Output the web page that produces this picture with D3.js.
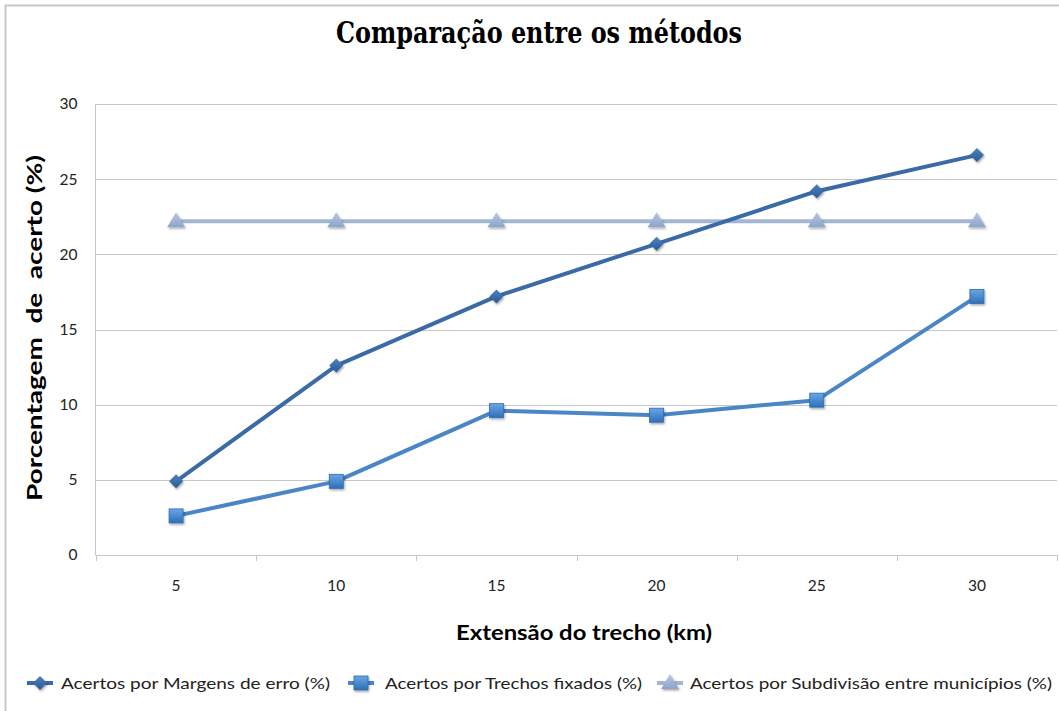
<!DOCTYPE html>
<html>
<head>
<meta charset="utf-8">
<script src="https://cdn.jsdelivr.net/npm/d3@7"></script>
<style>
  html, body { margin: 0; padding: 0; background: #fff; }
  svg { display: block; }
</style>
</head>
<body>
<svg id="chart" width="1059" height="711"></svg>
<script>
// Chart data
const categories = ["5", "10", "15", "20", "25", "30"];
const margensErro = [4.9, 12.6, 17.2, 20.7, 24.2, 26.6];
const trechosFixados = [2.6, 4.9, 9.6, 9.3, 10.3, 17.2];
const subdivisaoMunicipios = [22.2, 22.2, 22.2, 22.2, 22.2, 22.2];
const yTicks = [0, 5, 10, 15, 20, 25, 30];
const seriesNames = [
  "Acertos por Margens de erro (%)",
  "Acertos por Trechos fixados (%)",
  "Acertos por Subdivisão entre municípios (%)"
];

const svg = d3.select("#chart");
const W = 1059, H = 711;
const plot = { left: 96, right: 1057, top: 104, bottom: 555 };
const font = "Lato, 'Open Sans', 'Liberation Sans', sans-serif";

// Outer frame
svg.append("rect").attr("x", 5.5).attr("y", 5.5).attr("width", W).attr("height", H)
  .attr("fill", "#fff").attr("stroke", "#c8c8c8").attr("stroke-width", 2);

// Gradients for markers
const defs = svg.append("defs");
function grad(id, c1, c2) {
  const g = defs.append("linearGradient").attr("id", id)
    .attr("x1", "0").attr("y1", "0").attr("x2", "0").attr("y2", "1");
  g.append("stop").attr("offset", "0%").attr("stop-color", c1);
  g.append("stop").attr("offset", "100%").attr("stop-color", c2);
}
grad("gDiamond", "#4f82c0", "#2a5a94");
grad("gSquare", "#6aa6e6", "#2f6fb8");
grad("gTri", "#b8c8e2", "#8ea3c8");
const shadow = defs.append("filter").attr("id", "shadow").attr("x", "-50%").attr("y", "-50%").attr("width", "200%").attr("height", "200%");
shadow.append("feDropShadow").attr("dx", 1).attr("dy", 1.5).attr("stdDeviation", 1).attr("flood-color", "#000").attr("flood-opacity", 0.35);

// Scales
const x = d3.scaleBand().domain(categories).range([plot.left, plot.right]);
const y = d3.scaleLinear().domain([0, 30]).range([plot.bottom, plot.top]);

// Horizontal gridlines
svg.append("g").selectAll("line").data(yTicks.filter(t => t > 0)).join("line")
  .attr("x1", plot.left).attr("x2", plot.right)
  .attr("y1", d => Math.round(y(d)) + 0.5).attr("y2", d => Math.round(y(d)) + 0.5)
  .attr("stroke", "#c6c6c6").attr("stroke-width", 1);

// Y axis
const yAxis = svg.append("g").attr("transform", `translate(${plot.left - 0.5},0)`)
  .call(d3.axisLeft(y).tickValues(yTicks).tickSize(0).tickPadding(18));
yAxis.select(".domain").attr("stroke", "#c6c6c6").attr("d", `M0,${plot.top}V${plot.bottom}`);
yAxis.selectAll("text").attr("font-family", font).attr("font-size", 15.5).attr("fill", "#222");

// X axis
const boundaries = categories.map(c => x(c)).concat([plot.right]);
const xg = svg.append("g");
xg.append("line").attr("x1", plot.left - 0.5).attr("x2", plot.right)
  .attr("y1", plot.bottom + 0.5).attr("y2", plot.bottom + 0.5).attr("stroke", "#c6c6c6");
xg.selectAll("line.tick").data(boundaries).join("line").attr("class", "tick")
  .attr("x1", d => Math.round(d) + 0.5).attr("x2", d => Math.round(d) + 0.5)
  .attr("y1", plot.bottom).attr("y2", plot.bottom + 6).attr("stroke", "#c6c6c6");
const xAxis = svg.append("g").attr("transform", `translate(0,${plot.bottom})`)
  .call(d3.axisBottom(x).tickSize(0).tickPadding(25));
xAxis.select(".domain").remove();
xAxis.selectAll("text").attr("font-family", font).attr("font-size", 15.5).attr("fill", "#222");

// Series, drawn back to front
const series = [
  { values: subdivisaoMunicipios, color: "#a3b6d6", shape: "tri" },
  { values: trechosFixados, color: "#4a86c6", shape: "square" },
  { values: margensErro, color: "#3a6ba6", shape: "diamond" }
];

const cx = c => x(c) + x.bandwidth() / 2;
const line = d3.line().x((d, i) => cx(categories[i])).y(d => y(d));

function marker(g, shape, px, py) {
  if (shape === "diamond") {
    g.append("path").attr("d", `M${px},${py - 7}L${px + 7},${py}L${px},${py + 7}L${px - 7},${py}Z`)
      .attr("fill", "url(#gDiamond)").attr("filter", "url(#shadow)");
  } else if (shape === "square") {
    g.append("rect").attr("x", px - 7).attr("y", py - 7).attr("width", 14).attr("height", 14)
      .attr("fill", "url(#gSquare)").attr("stroke", "#2f6bb0").attr("stroke-width", 0.8)
      .attr("filter", "url(#shadow)");
  } else {
    g.append("path").attr("d", `M${px},${py - 9}L${px + 9},${py + 6}L${px - 9},${py + 6}Z`)
      .attr("fill", "url(#gTri)").attr("filter", "url(#shadow)");
  }
}

series.forEach(s => {
  const g = svg.append("g");
  g.append("path").datum(s.values).attr("d", line)
    .attr("fill", "none").attr("stroke", s.color).attr("stroke-width", 4)
    .attr("stroke-linejoin", "round");
  s.values.forEach((v, i) => marker(g, s.shape, cx(categories[i]), y(v)));
});

// Title
svg.append("text").attr("x", 539).attr("y", 43).attr("text-anchor", "middle")
  .attr("font-family", "'DejaVu Serif Condensed', 'Liberation Serif', serif")
  .attr("font-weight", "bold").attr("font-size", 29).attr("fill", "#000")
  .attr("textLength", 406).attr("lengthAdjust", "spacingAndGlyphs")
  .text("Comparação entre os métodos");

// Axis titles
svg.append("text").attr("x", 584).attr("y", 640).attr("text-anchor", "middle")
  .attr("font-family", font).attr("font-weight", "bold").attr("font-size", 21)
  .attr("textLength", 256).attr("lengthAdjust", "spacingAndGlyphs")
  .text("Extensão do trecho (km)");
svg.append("text").attr("transform", "translate(42,328) rotate(-90)").attr("text-anchor", "middle")
  .attr("font-family", font).attr("font-weight", "bold").attr("font-size", 21)
  .attr("textLength", 346).attr("lengthAdjust", "spacingAndGlyphs")
  .attr("xml:space", "preserve")
  .text("Porcentagem  de  acerto (%)");

// Legend
const legendItems = [
  { label: seriesNames[0], color: "#3a6ba6", shape: "diamond", mx: 40, tx: 61, tl: 269 },
  { label: seriesNames[1], color: "#4a86c6", shape: "square", mx: 361, tx: 385, tl: 257 },
  { label: seriesNames[2], color: "#a3b6d6", shape: "tri", mx: 670, tx: 690, tl: 362 }
];
const ly = 683;
legendItems.forEach(d => {
  const g = svg.append("g");
  g.append("line").attr("x1", d.mx - 13).attr("x2", d.mx + 13).attr("y1", ly).attr("y2", ly)
    .attr("stroke", d.color).attr("stroke-width", 4);
  marker(g, d.shape, d.mx, ly);
  g.append("text").attr("x", d.tx).attr("y", ly + 5.5).attr("font-family", font)
    .attr("font-size", 16).attr("fill", "#222")
    .attr("textLength", d.tl).attr("lengthAdjust", "spacingAndGlyphs").text(d.label);
});
</script>
</body>
</html>
